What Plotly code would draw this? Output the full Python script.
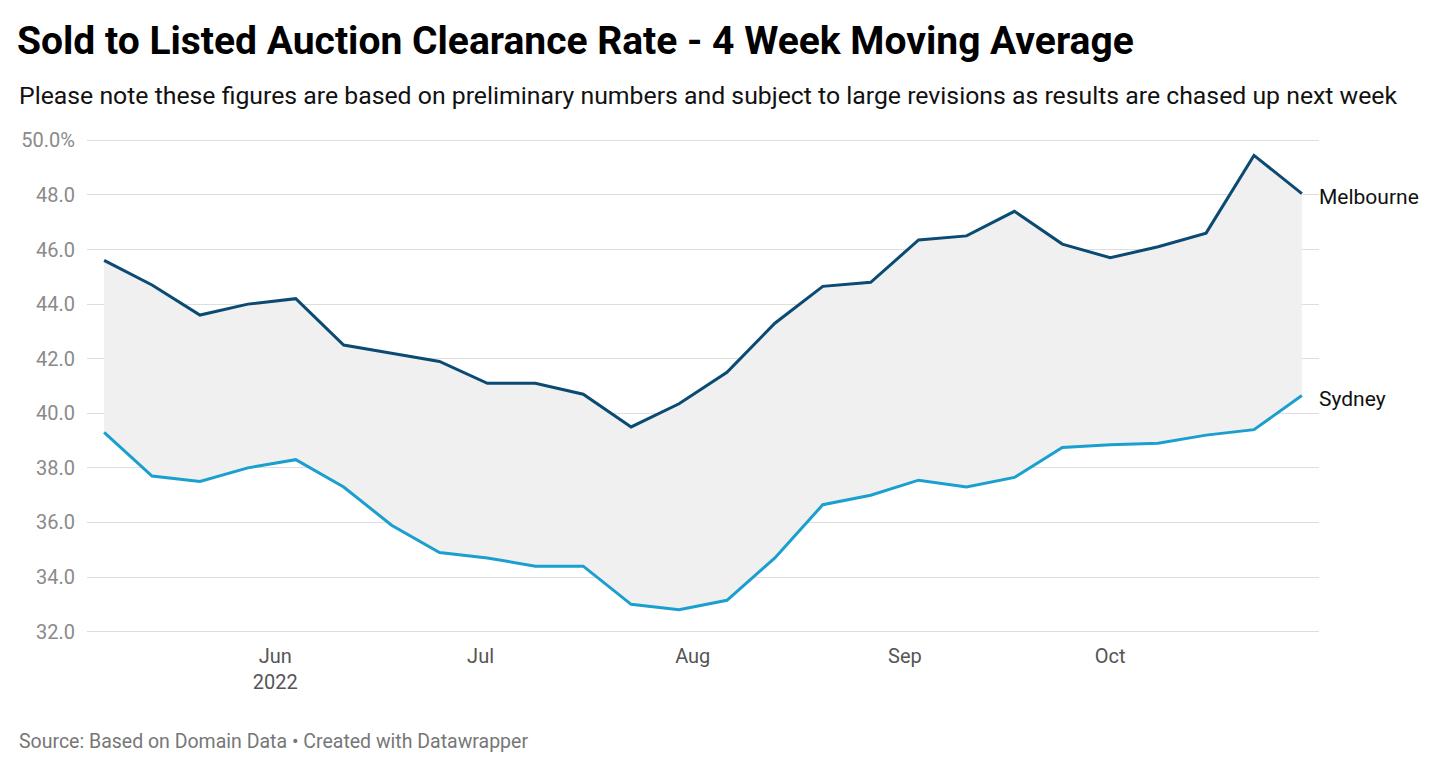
import plotly.graph_objects as go

weeks = ["2022-05-07", "2022-05-14", "2022-05-21", "2022-05-28",
         "2022-06-04", "2022-06-11", "2022-06-18", "2022-06-25",
         "2022-07-02", "2022-07-09", "2022-07-16", "2022-07-23", "2022-07-30",
         "2022-08-06", "2022-08-13", "2022-08-20", "2022-08-27",
         "2022-09-03", "2022-09-10", "2022-09-17", "2022-09-24",
         "2022-10-01", "2022-10-08", "2022-10-15", "2022-10-22", "2022-10-29"]

melbourne = [45.6, 44.7, 43.6, 44.0, 44.2, 42.5, 42.2, 41.9, 41.1, 41.1, 40.7,
             39.5, 40.35, 41.5, 43.3, 44.65, 44.8, 46.35, 46.5, 47.4, 46.2,
             45.7, 46.1, 46.6, 49.45, 48.05]

sydney = [39.3, 37.7, 37.5, 38.0, 38.3, 37.3, 35.9, 34.9, 34.7, 34.4, 34.4,
          33.0, 32.8, 33.15, 34.7, 36.65, 37.0, 37.55, 37.3, 37.65, 38.75,
          38.85, 38.9, 39.2, 39.4, 40.65]

y_tickvals = [32, 34, 36, 38, 40, 42, 44, 46, 48, 50]
y_ticktext = ["32.0", "34.0", "36.0", "38.0", "40.0", "42.0", "44.0", "46.0", "48.0", "50.0%"]

x_tickvals = ["2022-06-01", "2022-07-01", "2022-08-01", "2022-09-01", "2022-10-01"]
x_ticktext = ["Jun<br>2022", "Jul", "Aug", "Sep", "Oct"]

title = "Sold to Listed Auction Clearance Rate - 4 Week Moving Average"
subtitle = ("Please note these figures are based on preliminary numbers and subject to "
            "large revisions as results are chased up next week")
footer = "Source: Based on Domain Data \u2022 Created with Datawrapper"

MEL_COLOR = "#0a4a73"
SYD_COLOR = "#1a9fcf"
FONT = "Roboto"

# page is drawn with an 8px body margin: work in page pixels, convert to figure pixels
OFF = 8
W, H = 1456 - 2 * OFF, 771 - 2 * OFF
PLOT_L, PLOT_R, PLOT_T, PLOT_B = 87, 1319, 139, 633   # page pixels
ML = PLOT_L - OFF
MR = W - (PLOT_R - OFF)
MT = PLOT_T - OFF
MB = H - (PLOT_B - OFF)
PW = PLOT_R - PLOT_L
PH = PLOT_B - PLOT_T


def px_x(x):
    return (x - PLOT_L) / PW


def px_y(y):
    return (PLOT_B - y) / PH


fig = go.Figure()
fig.add_trace(go.Scatter(x=weeks, y=sydney, mode="lines", name="Sydney",
                         line=dict(color=SYD_COLOR, width=3), hoverinfo="skip"))
fig.add_trace(go.Scatter(x=weeks, y=melbourne, mode="lines", name="Melbourne",
                         line=dict(color=MEL_COLOR, width=3), fill="tonexty",
                         fillcolor="#f0f0f0", hoverinfo="skip"))

annotations = [
    dict(text=subtitle, xref="paper", yref="paper", x=px_x(17), y=px_y(96),
         xanchor="left", yanchor="middle", showarrow=False,
         font=dict(family=FONT, size=24.8, color="#111111")),
    dict(text=footer, xref="paper", yref="paper", x=px_x(17), y=px_y(741),
         xanchor="left", yanchor="middle", showarrow=False,
         font=dict(family=FONT, size=19.5, color="#777777")),
    dict(text="Melbourne", x=weeks[-1], y=melbourne[-1], xref="x", yref="y",
         xanchor="left", yanchor="middle", xshift=15, yshift=-3, showarrow=False,
         font=dict(family=FONT, size=21, color="#111111")),
    dict(text="Sydney", x=weeks[-1], y=sydney[-1], xref="x", yref="y",
         xanchor="left", yanchor="middle", xshift=15, yshift=-3, showarrow=False,
         font=dict(family=FONT, size=21, color="#111111")),
]

fig.update_layout(
    width=W, height=H,
    margin=dict(l=ML, r=MR, t=MT, b=MB),
    paper_bgcolor="white", plot_bgcolor="white",
    showlegend=False,
    title=dict(text="<b>" + title + "</b>", x=(17 - OFF) / W, xref="container",
               xanchor="left", y=1 - (40.5 - OFF) / H, yref="container", yanchor="middle",
               font=dict(family=FONT, size=39, color="#000000")),
    annotations=annotations,
    font=dict(family=FONT),
)

fig.update_xaxes(range=["2022-05-04 12:00", "2022-10-31 12:00"],
                 tickvals=x_tickvals, ticktext=x_ticktext,
                 showgrid=False, zeroline=False, showline=False,
                 ticks="outside", ticklen=5, tickcolor="rgba(0,0,0,0)",
                 tickfont=dict(family=FONT, size=20, color="#555555"))
fig.update_yaxes(range=[31.95, 50.05], tickvals=y_tickvals, ticktext=y_ticktext,
                 showgrid=True, gridcolor="#dedede", gridwidth=1,
                 zeroline=False, showline=False,
                 ticks="outside", ticklen=7, tickcolor="rgba(0,0,0,0)",
                 tickfont=dict(family=FONT, size=20, color="#8a8a8a"))

fig.write_html("out.html")
